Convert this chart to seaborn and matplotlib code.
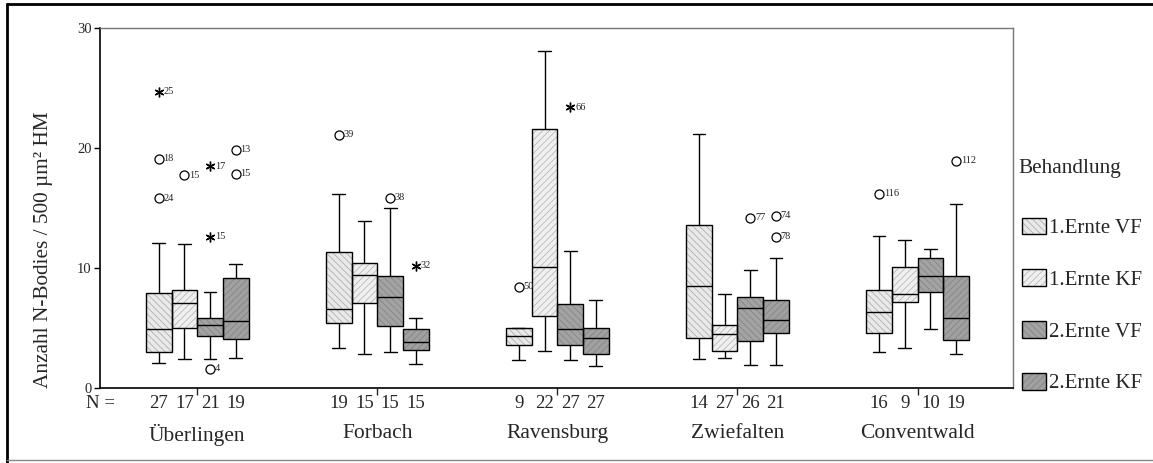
import numpy as np
import pandas as pd
import matplotlib
matplotlib.use("Agg")
import matplotlib.pyplot as plt
import seaborn as sns
from matplotlib.patches import Patch, PathPatch
from matplotlib.lines import Line2D
import matplotlib.transforms as mtransforms

# -----------------------------
# Data
# -----------------------------
sites = ["Überlingen", "Forbach", "Ravensburg", "Zwiefalten", "Conventwald"]
treatments = ["1.Ernte VF", "1.Ernte KF", "2.Ernte VF", "2.Ernte KF"]

# five-number summaries per treatment, one value per site
vf1_lo = [2.1, 3.3, 2.3, 2.4, 3.0]
vf1_q1 = [3.0, 5.4, 3.6, 4.2, 4.6]
vf1_med = [4.9, 6.6, 4.3, 8.5, 6.3]
vf1_q3 = [7.9, 11.3, 5.0, 13.6, 8.2]
vf1_hi = [12.1, 16.2, 5.0, 21.2, 12.7]

kf1_lo = [2.4, 2.8, 3.1, 2.5, 3.3]
kf1_q1 = [5.0, 7.1, 6.0, 3.1, 7.2]
kf1_med = [7.05, 9.45, 10.1, 4.5, 7.8]
kf1_q3 = [8.2, 10.4, 21.6, 5.25, 10.1]
kf1_hi = [12.0, 13.9, 28.1, 7.8, 12.3]

vf2_lo = [2.4, 3.0, 2.3, 1.9, 4.9]
vf2_q1 = [4.3, 5.2, 3.6, 3.9, 8.0]
vf2_med = [5.25, 7.6, 4.9, 6.65, 9.35]
vf2_q3 = [5.85, 9.3, 7.0, 7.6, 10.8]
vf2_hi = [8.0, 15.0, 11.4, 9.8, 11.55]

kf2_lo = [2.5, 2.0, 1.8, 1.9, 2.8]
kf2_q1 = [4.05, 3.2, 2.8, 4.55, 4.0]
kf2_med = [5.55, 3.8, 4.2, 5.65, 5.8]
kf2_q3 = [9.15, 4.9, 5.0, 7.3, 9.35]
kf2_hi = [10.35, 5.8, 7.35, 10.85, 15.35]

n_counts = [
    [27, 17, 21, 19],
    [19, 15, 15, 15],
    [9, 22, 27, 27],
    [14, 27, 26, 21],
    [16, 9, 10, 19],
]

# outliers: site index, treatment index, value, case label, kind ("o" outlier, "*" extreme)
out_site = [0, 0, 0, 0, 0, 0, 0, 0, 0, 1, 1, 1, 2, 2, 3, 3, 3, 4, 4]
out_treat = [0, 0, 0, 1, 2, 2, 2, 3, 3, 0, 2, 3, 0, 2, 2, 3, 3, 0, 3]
out_value = [24.7, 19.1, 15.8, 17.75, 18.5, 12.6, 1.6, 19.85, 17.85,
             21.1, 15.85, 10.2, 8.45, 23.4, 14.2, 14.35, 12.6, 16.2, 18.95]
out_label = ["25", "18", "24", "15", "17", "15", "4", "13", "15",
             "39", "38", "32", "50", "66", "77", "74", "78", "116", "112"]
out_kind = ["*", "o", "o", "o", "*", "*", "o", "o", "o",
            "o", "o", "*", "o", "*", "o", "o", "o", "o", "o"]

# -----------------------------
# Build long table
# -----------------------------
stats = {
    treatments[0]: [vf1_lo, vf1_q1, vf1_med, vf1_q3, vf1_hi],
    treatments[1]: [kf1_lo, kf1_q1, kf1_med, kf1_q3, kf1_hi],
    treatments[2]: [vf2_lo, vf2_q1, vf2_med, vf2_q3, vf2_hi],
    treatments[3]: [kf2_lo, kf2_q1, kf2_med, kf2_q3, kf2_hi],
}
rows = []
for t, arrs in stats.items():
    for i, s in enumerate(sites):
        for a in arrs:
            rows.append({"site": s, "Behandlung": t, "value": a[i]})
df = pd.DataFrame(rows)

# -----------------------------
# Styling
# -----------------------------
sns.set_style("ticks")
plt.rcParams["font.family"] = ["Liberation Serif", "DejaVu Serif"]
plt.rcParams["hatch.linewidth"] = 0.6

fills = {treatments[0]: "#e9e9e9", treatments[1]: "#efefef",
         treatments[2]: "#a3a3a3", treatments[3]: "#a0a0a0"}
hatches = ["\\\\\\\\\\", "/////", "\\\\\\\\\\", "/////"]
hatch_cols = ["#b0b0b0", "#bababa", "#868686", "#858585"]

WIDTH = 0.57

fig = plt.figure(figsize=(11.53, 4.63), dpi=100)
ax = fig.add_axes([0.0867, 0.162, 0.7919, 0.7775])

sns.boxplot(data=df, x="site", y="value", hue="Behandlung", order=sites,
            hue_order=treatments, palette=fills, whis=(0, 100), width=WIDTH,
            gap=0, linecolor="black", linewidth=1, saturation=1,
            showfliers=False, legend=False, ax=ax)

# hatch the boxes; hatch colour follows edge colour, so draw outline on top
for p in list(ax.patches):
    ext = p.get_path().get_extents()
    xc = (ext.x0 + ext.x1) / 2
    k = int(round((xc - round(xc)) / (WIDTH / 4) + 1.5))
    p.set_hatch(hatches[k])
    p.set_edgecolor(hatch_cols[k])
    p.set_linewidth(0)
    ax.add_patch(PathPatch(p.get_path(), transform=p.get_transform(),
                           fill=False, edgecolor="black", linewidth=1,
                           zorder=p.get_zorder() + 0.05))

# outliers
for s, t, v, lab, kind in zip(out_site, out_treat, out_value, out_label, out_kind):
    x = s + (t - 1.5) * WIDTH / 4
    if kind == "o":
        ax.plot(x, v, marker="o", ms=6.5, mfc="none", mec="black", mew=0.9,
                zorder=5, clip_on=False)
    else:
        ax.plot(x, v, marker=(6, 2, 0), ms=7, mec="black", mew=1,
                zorder=5, clip_on=False)
    ax.annotate(lab, (x, v), xytext=(3.5, 0), textcoords="offset points",
                fontsize=7.5, va="center", ha="left")

# axes
ax.set_xlim(-0.54, 4.53)
ax.set_ylim(0, 30)
ax.set_yticks([0, 10, 20, 30])
ax.tick_params(axis="y", labelsize=10.5, length=4, width=1, color="black", pad=2)
ax.tick_params(axis="x", labelsize=15.5, length=5, width=1, pad=21)
ax.set_xticks(range(len(sites)))
ax.set_xticklabels(sites)
ax.set_xlabel("")
ax.set_ylabel("Anzahl N-Bodies / 500 µm² HM", fontsize=15.3)
ax.yaxis.set_label_coords(-0.051, 0.383)

for side in ["top", "right"]:
    ax.spines[side].set_visible(True)
    ax.spines[side].set_color("#777777")
    ax.spines[side].set_linewidth(1)
for side in ["left", "bottom"]:
    ax.spines[side].set_color("black")
    ax.spines[side].set_linewidth(1.2)

# N counts below the axis
trans = mtransforms.blended_transform_factory(ax.transData, ax.transAxes)
ax.text(-0.615, -0.042, "N =", transform=trans, fontsize=13.5, va="center", ha="left")
for i, counts in enumerate(n_counts):
    for t, c in enumerate(counts):
        x = i + (t - 1.5) * WIDTH / 4
        ax.text(x, -0.042, str(c), transform=trans, fontsize=13.5,
                va="center", ha="center")

# legend (title drawn separately so it can sit higher above the entries)
fig.text(0.8829, 1 - 168 / 463, "Behandlung", fontsize=15.3, va="center", ha="left")
handles = []
for k, t in enumerate(treatments):
    h1 = Patch(facecolor=fills[t], hatch=hatches[k], edgecolor=hatch_cols[k], linewidth=0)
    h2 = Patch(facecolor="none", edgecolor="black", linewidth=1)
    handles.append((h1, h2))
leg = fig.legend(handles, treatments, loc="upper left",
                 bbox_to_anchor=(0.8864, 0.530), frameon=False, fontsize=15,
                 labelspacing=1.5, handlelength=1.15,
                 handleheight=0.85, handletextpad=0.15, borderaxespad=0,
                 borderpad=0)

# outer frame
fig.add_artist(Line2D([0.006, 0.006], [0.0, 0.991], color="black", lw=2,
                      transform=fig.transFigure))
fig.add_artist(Line2D([0.006, 1.0], [0.991, 0.991], color="black", lw=2,
                      transform=fig.transFigure))
fig.add_artist(Line2D([0.006, 1.0], [0.006, 0.006], color="#888888", lw=1,
                      transform=fig.transFigure))

fig.savefig("out.png", dpi=100)
